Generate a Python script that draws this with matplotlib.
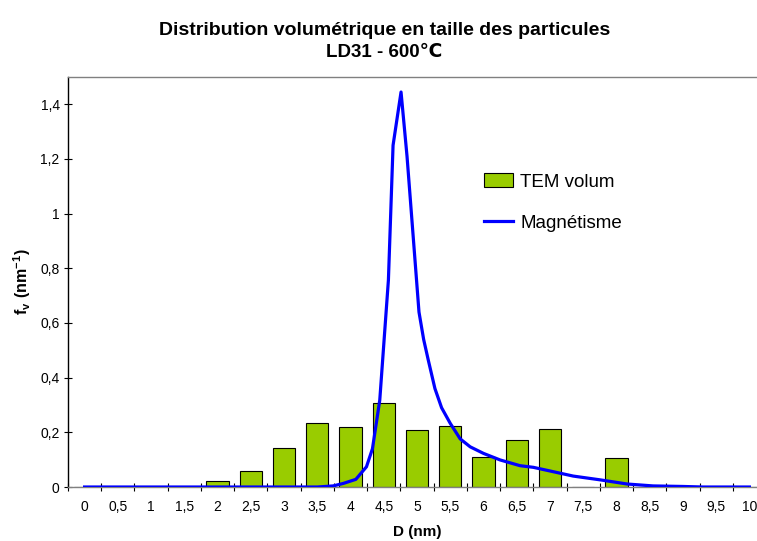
import numpy as np
import matplotlib
matplotlib.use('Agg')
import matplotlib.pyplot as plt
from matplotlib.patches import Patch
from matplotlib.lines import Line2D
from matplotlib.ticker import FixedLocator

plt.rcParams['font.family'] = ['Liberation Sans', 'DejaVu Sans']
plt.rcParams['mathtext.fontset'] = 'custom'
plt.rcParams['mathtext.rm'] = 'Liberation Sans'
plt.rcParams['mathtext.bf'] = 'Liberation Sans:bold'

# TEM volume distribution (one bar per 0.5 nm class)
tem_d = [0, 0.5, 1, 1.5, 2, 2.5, 3, 3.5, 4, 4.5, 5, 5.5, 6, 6.5, 7, 7.5, 8,
         8.5, 9, 9.5, 10]
tem_fv = [0, 0, 0, 0, 0.021, 0.058, 0.144, 0.234, 0.218, 0.308, 0.208, 0.223,
          0.110, 0.171, 0.211, 0, 0.106, 0, 0, 0, 0]

# distribution from magnetic measurements
mag_d = [0, 3.5, 3.74, 3.89, 4.08, 4.24, 4.33, 4.44, 4.57, 4.64, 4.76, 4.85,
         5.03, 5.1, 5.17, 5.27, 5.37, 5.5, 5.65, 5.8, 6.0, 6.25, 6.55, 6.75,
         7.05, 7.35, 7.76, 8.16, 8.55, 9.0, 9.3, 10.0]
mag_fv = [0, 0, 0.004, 0.013, 0.028, 0.074, 0.14, 0.318, 0.757, 1.25, 1.445,
          1.21, 0.64, 0.54, 0.464, 0.36, 0.29, 0.233, 0.176, 0.147, 0.123,
          0.099, 0.078, 0.072, 0.056, 0.040, 0.026, 0.011, 0.004, 0.002, 0, 0]

tick_labels = [('%g' % d).replace('.', ',') for d in tem_d]
y_ticks = [0, 0.2, 0.4, 0.6, 0.8, 1, 1.2, 1.4]

fig = plt.figure(figsize=(7.57, 5.41), dpi=100)
ax = fig.add_axes([0.0898, 0.0998, 0.9221, 0.7579])

ax.bar(tem_d, tem_fv, width=1/3, color='#99CC00', edgecolor='black',
       linewidth=0.8, zorder=2)
ax.plot(mag_d, mag_fv, color='#0000FF', linewidth=2.3, zorder=3)

ax.set_xlim(-0.25, 10.25)
ax.set_ylim(0, 1.5)

# category style x axis: labels in the middle, ticks on the boundaries
ax.xaxis.set_major_locator(FixedLocator(tem_d))
ax.set_xticklabels(tick_labels)
ax.xaxis.set_minor_locator(FixedLocator(np.arange(-0.25, 10.3, 0.5)))
ax.tick_params(axis='x', which='major', length=0, pad=9, labelsize=10)
ax.tick_params(axis='x', which='minor', direction='inout', length=6,
               width=0.8, color='black')

ax.yaxis.set_major_locator(FixedLocator(y_ticks))
ax.set_yticklabels([('%g' % v).replace('.', ',') for v in y_ticks])
ax.tick_params(axis='y', which='major', direction='inout', length=6,
               width=0.8, pad=3, labelsize=10)

ax.spines['left'].set_color('black')
ax.spines['bottom'].set_color('#808080')
ax.spines['top'].set_color('#808080')
ax.spines['right'].set_color('#808080')
for s in ax.spines.values():
    s.set_linewidth(1.0)

ax.set_xlabel('D (nm)', fontsize=11, fontweight='bold', labelpad=8)
ax.set_ylabel(r'$\mathbf{f_v\ (nm^{-1})}$', fontsize=11.5, labelpad=5)

fig.text(0.508, 0.944, 'Distribution volumétrique en taille des particules',
         ha='center', va='center', fontsize=14, fontweight='bold')
fig.text(0.508, 0.903, 'LD31 - 600℃', ha='center', va='center',
         fontsize=13.5, fontweight='bold')

handles = [Patch(facecolor='#99CC00', edgecolor='black', linewidth=0.8),
           Line2D([], [], color='#0000FF', linewidth=2.3)]
ax.legend(handles, ['TEM volum', 'Magnétisme'], loc='upper left',
          bbox_to_anchor=(475 / 757, 377 / 541), bbox_transform=fig.transFigure,
          frameon=False, fontsize=13.5, handlelength=1.55, handleheight=0.75,
          handletextpad=0.35, labelspacing=1.25, borderpad=0)

fig.savefig('out.png', dpi=100)
